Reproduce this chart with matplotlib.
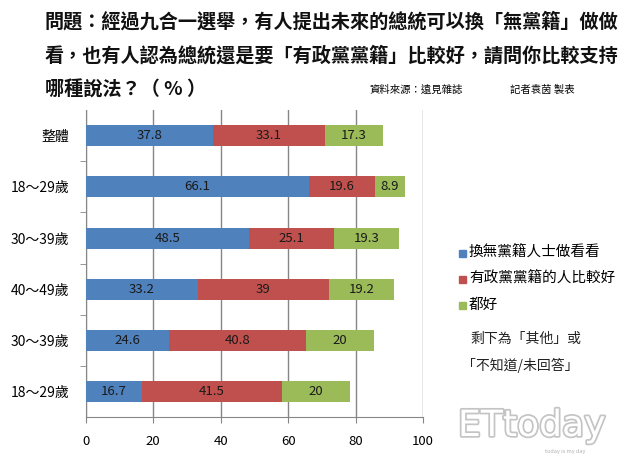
import numpy as np
import matplotlib
matplotlib.use('Agg')
import matplotlib.pyplot as plt
import matplotlib.patheffects as pe
from matplotlib.patches import Rectangle

plt.rcParams['font.family'] = ['Noto Sans CJK TC', 'DejaVu Sans']

categories = ['整體', '18～29歲', '30～39歲', '40～49歲', '30～39歲', '18～29歲']
blue_vals = [37.8, 66.1, 48.5, 33.2, 24.6, 16.7]
red_vals = [33.1, 19.6, 25.1, 39, 40.8, 41.5]
green_vals = [17.3, 8.9, 19.3, 19.2, 20, 20]
series_names = ['換無黨籍人士做看看', '有政黨黨籍的人比較好', '都好']
x_ticks = [0, 20, 40, 60, 80, 100]

colors = ['#4F81BD', '#C0504D', '#9BBB59']

fig = plt.figure(figsize=(6.4, 4.63), dpi=100)
ax = fig.add_axes([0.134, 0.0994, 0.527, 0.6626])

y = np.arange(len(categories))
left = np.zeros(len(categories))
for vals, col in zip([blue_vals, red_vals, green_vals], colors):
    ax.barh(y, vals, left=left, height=0.41, color=col, zorder=3)
    for yi, l, v in zip(y, left, vals):
        ax.text(l + v / 2, yi, '{:g}'.format(v), ha='center', va='center',
                fontsize=9.5, color='#1a1a1a', zorder=4)
    left = left + np.array(vals)

ax.set_xlim(0, 100)
ax.set_ylim(len(categories) - 0.5, -0.5)
ax.set_xticks(x_ticks)
ax.set_xticklabels([str(t) for t in x_ticks], fontsize=9.5)
ax.set_yticks(y)
ax.set_yticklabels(categories, fontsize=10)
ax.set_yticks(np.arange(0.5, len(categories) - 0.5, 1), minor=True)
ax.tick_params(axis='y', which='major', length=0, pad=12)
ax.tick_params(axis='y', which='minor', length=4, color='#868686')
ax.tick_params(axis='x', length=4, color='#868686', pad=9)
ax.xaxis.grid(True, color='#868686', lw=1, zorder=0)
for s in ['top', 'right']:
    ax.spines[s].set_visible(False)
for s in ['left', 'bottom']:
    ax.spines[s].set_color('#868686')

# title
title_lines = ['問題：經過九合一選舉，有人提出未來的總統可以換「無黨籍」做做',
               '看，也有人認為總統還是要「有政黨黨籍」比較好，請問你比較支持',
               '哪種說法？（ % ）']
for i, line in enumerate(title_lines):
    fig.text(45 / 640, 1 - (22 + 34 * i) / 463, line, fontsize=13.8,
             fontweight='bold', ha='left', va='center', color='#111111')
fig.text(370 / 640, 1 - 90 / 463, '資料來源：遠見雜誌', fontsize=7.5,
         ha='left', va='center')
fig.text(510 / 640, 1 - 90 / 463, '記者袁茵 製表', fontsize=7.5,
         ha='left', va='center')

# legend
for i, (name, col) in enumerate(zip(series_names, colors)):
    yy = 1 - (253 + 26 * i) / 463
    fig.patches.append(Rectangle((459 / 640, yy - 3.5 / 463), 7 / 640, 7 / 463,
                                 transform=fig.transFigure, color=col))
    fig.text(469 / 640, yy, name, fontsize=10.5, ha='left', va='center')

fig.text(470 / 640, 1 - 339 / 463, '剩下為「其他」或', fontsize=10,
         ha='left', va='center', color='#222222')
fig.text(462 / 640, 1 - 365 / 463, '「不知道/未回答」', fontsize=10,
         ha='left', va='center', color='#222222')

# watermark
fig.text(458 / 640, 1 - 426 / 463, 'ETtoday', fontsize=26, ha='left',
         va='center', color='white', family='DejaVu Sans',
         path_effects=[pe.withStroke(linewidth=2.5, foreground='#c4c4c4')])
fig.text(565 / 640, 1 - 452 / 463, 'today is my day', fontsize=4,
         ha='center', va='center', color='#b0b0b0')

fig.savefig('out.png', dpi=100)
